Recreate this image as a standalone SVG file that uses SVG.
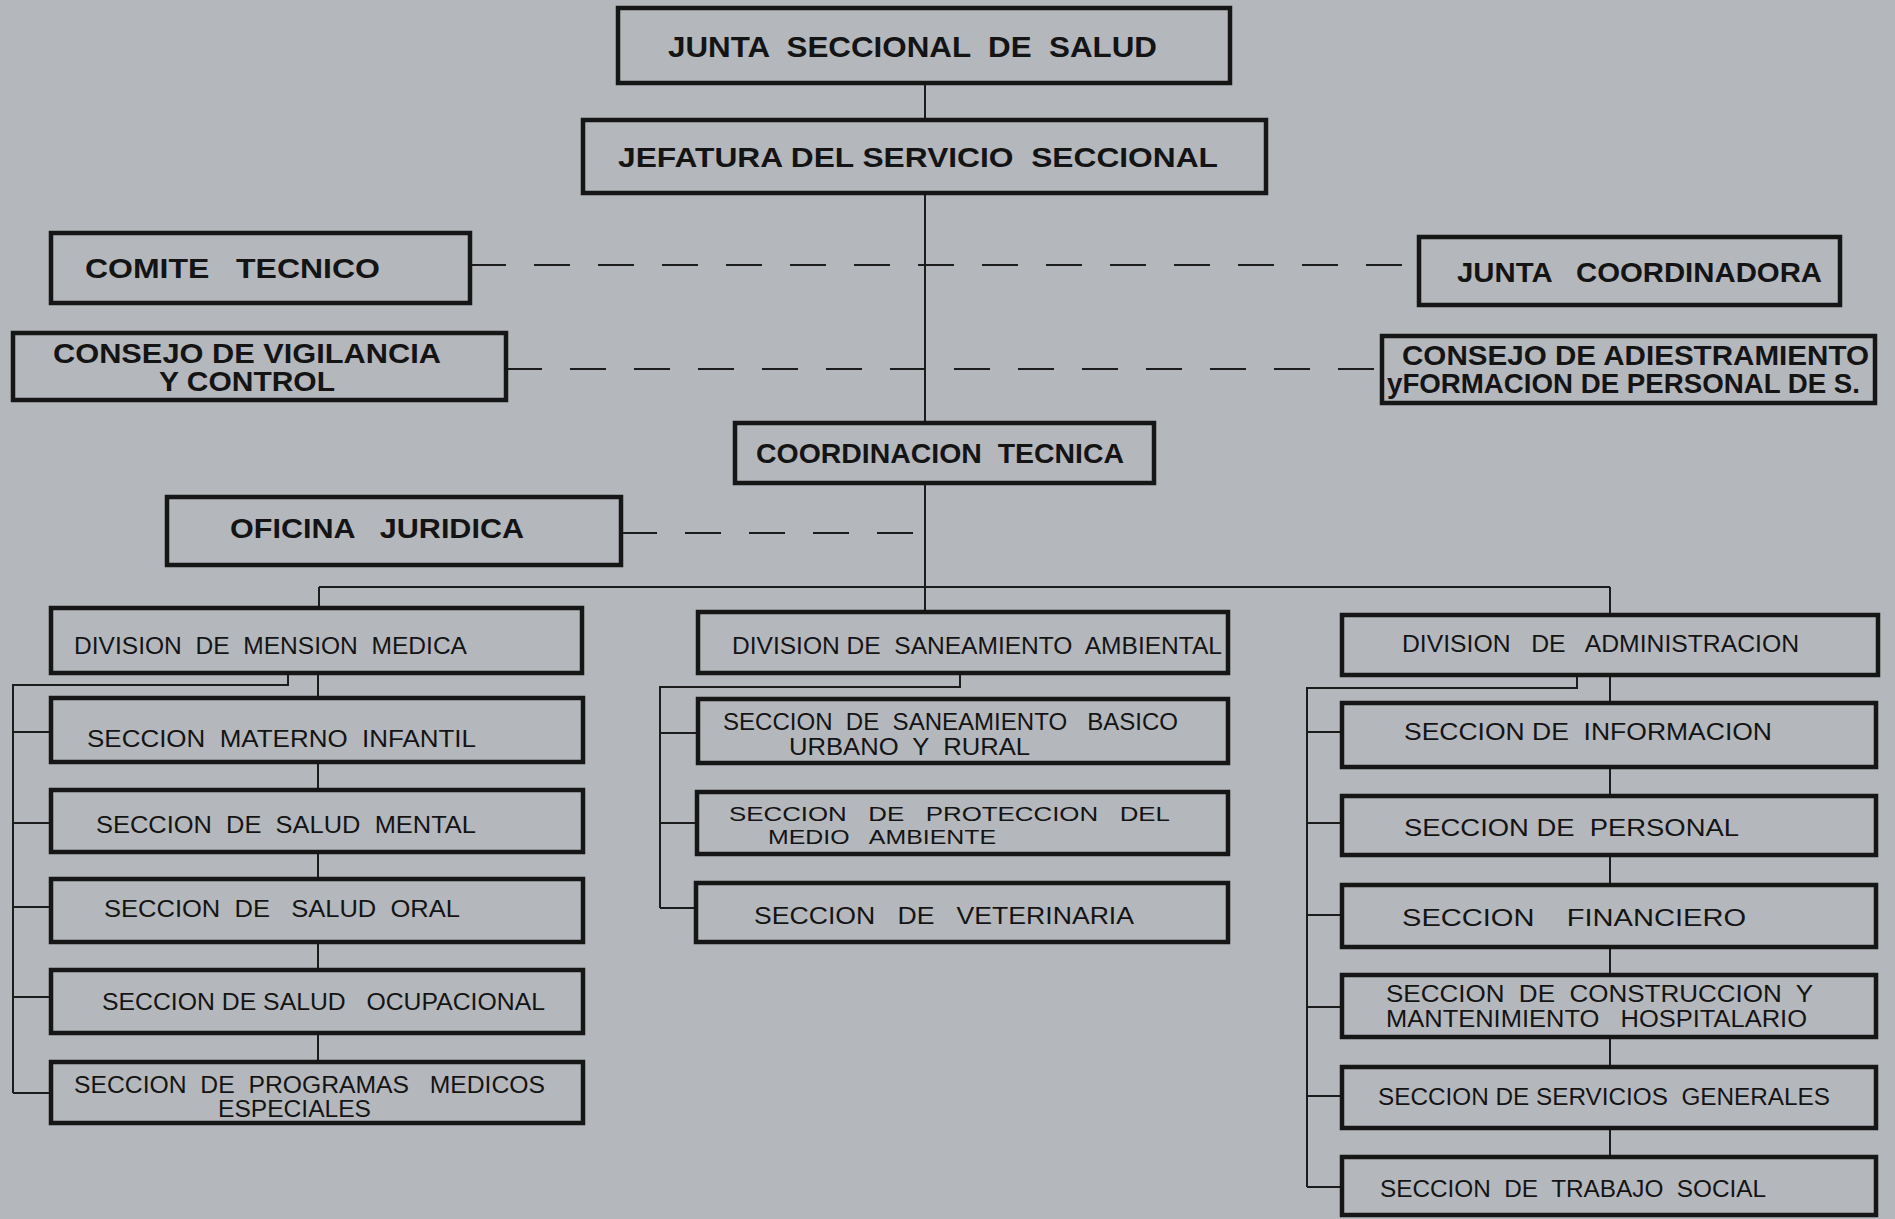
<svg xmlns="http://www.w3.org/2000/svg" width="1895" height="1219" viewBox="0 0 1895 1219">
<style>
.bg{fill:#b4b8bd}
.box{fill:none;stroke:#161616;stroke-width:4.5}
.ln{stroke:#1c1c1c;stroke-width:2;fill:none}
.dash{stroke:#1c1c1c;stroke-width:2;fill:none;stroke-dasharray:36 28}
text{font-family:"Liberation Sans",Arial,sans-serif;fill:#141414;white-space:pre}
.t1{font-size:30px;font-weight:bold}
.t2{font-size:28px;font-weight:bold}
.t3{font-size:23px}
.t4{font-size:21px}
</style>
<rect class="bg" x="0" y="0" width="1895" height="1219"/>
<g id="connectors">
<path class="ln" d="M925 83V120M925 193V423M925 483V612M319 587H1610M319 587V608M1610 587V615"/>
<path class="ln" d="M288 673V685H13V1093M13 732H51M13 823H51M13 907H51M13 997H51M13 1093H51"/>
<path class="ln" d="M318 673V698M318 762V790M318 852V879M318 942V970M318 1033V1062"/>
<path class="ln" d="M960 673V687H660V908M660 733H698M660 823H697M660 908H696"/>
<path class="ln" d="M1577 675V688H1307V1187M1307 732H1342M1307 823H1342M1307 915H1342M1307 1007H1342M1307 1096H1342M1307 1187H1342"/>
<path class="ln" d="M1610 675V703M1610 767V796M1610 855V885M1610 947V975M1610 1037V1067M1610 1128V1157"/>
<path class="dash" d="M470 265H1419"/>
<path class="dash" d="M506 369H1382"/>
<path class="dash" d="M621 533H925"/>
</g>
<g id="junta-seccional"><rect class="box" x="618" y="8" width="612" height="75"/><text class="t1" x="668" y="57" textLength="489" lengthAdjust="spacingAndGlyphs">JUNTA  SECCIONAL  DE  SALUD</text></g>
<g id="jefatura"><rect class="box" x="583" y="120" width="683" height="73"/><text class="t2" x="618" y="167" textLength="600" lengthAdjust="spacingAndGlyphs">JEFATURA DEL SERVICIO  SECCIONAL</text></g>
<g id="comite-tecnico"><rect class="box" x="51" y="233" width="419" height="70"/><text class="t2" x="85" y="278" textLength="295" lengthAdjust="spacingAndGlyphs">COMITE   TECNICO</text></g>
<g id="consejo-vigilancia"><rect class="box" x="13" y="333" width="493" height="67"/><text class="t2" x="53" y="363" textLength="388" lengthAdjust="spacingAndGlyphs">CONSEJO DE VIGILANCIA</text><text class="t2" x="159" y="391" textLength="176" lengthAdjust="spacingAndGlyphs">Y CONTROL</text></g>
<g id="junta-coordinadora"><rect class="box" x="1419" y="237" width="421" height="68"/><text class="t2" x="1457" y="282" textLength="365" lengthAdjust="spacingAndGlyphs">JUNTA   COORDINADORA</text></g>
<g id="consejo-adiestramiento"><rect class="box" x="1382" y="336" width="493" height="67"/><text class="t2" x="1402" y="365" textLength="467" lengthAdjust="spacingAndGlyphs">CONSEJO DE ADIESTRAMIENTO</text><text class="t2" x="1387" y="393" textLength="473" lengthAdjust="spacingAndGlyphs">yFORMACION DE PERSONAL DE S.</text></g>
<g id="coordinacion-tecnica"><rect class="box" x="735" y="423" width="419" height="60"/><text class="t2" x="756" y="463" textLength="368" lengthAdjust="spacingAndGlyphs">COORDINACION  TECNICA</text></g>
<g id="oficina-juridica"><rect class="box" x="167" y="497" width="454" height="68"/><text class="t2" x="230" y="538" textLength="294" lengthAdjust="spacingAndGlyphs">OFICINA   JURIDICA</text></g>
<g id="div-mension-medica"><rect class="box" x="51" y="608" width="531" height="65"/><text class="t3" x="74" y="654" textLength="393" lengthAdjust="spacingAndGlyphs">DIVISION  DE  MENSION  MEDICA</text></g>
<g id="sec-materno"><rect class="box" x="51" y="698" width="532" height="64"/><text class="t3" x="87" y="747" textLength="389" lengthAdjust="spacingAndGlyphs">SECCION  MATERNO  INFANTIL</text></g>
<g id="sec-mental"><rect class="box" x="51" y="790" width="532" height="62"/><text class="t3" x="96" y="833" textLength="380" lengthAdjust="spacingAndGlyphs">SECCION  DE  SALUD  MENTAL</text></g>
<g id="sec-oral"><rect class="box" x="51" y="879" width="532" height="63"/><text class="t3" x="104" y="917" textLength="356" lengthAdjust="spacingAndGlyphs">SECCION  DE   SALUD  ORAL</text></g>
<g id="sec-ocupacional"><rect class="box" x="51" y="970" width="532" height="63"/><text class="t3" x="102" y="1010" textLength="443" lengthAdjust="spacingAndGlyphs">SECCION DE SALUD   OCUPACIONAL</text></g>
<g id="sec-programas"><rect class="box" x="51" y="1062" width="532" height="61"/><text class="t3" x="74" y="1093" textLength="471" lengthAdjust="spacingAndGlyphs">SECCION  DE  PROGRAMAS   MEDICOS</text><text class="t3" x="218" y="1117" textLength="153" lengthAdjust="spacingAndGlyphs">ESPECIALES</text></g>
<g id="div-saneamiento"><rect class="box" x="698" y="612" width="530" height="61"/><text class="t3" x="732" y="654" textLength="490" lengthAdjust="spacingAndGlyphs">DIVISION DE  SANEAMIENTO  AMBIENTAL</text></g>
<g id="sec-basico"><rect class="box" x="698" y="699" width="530" height="64"/><text class="t3" x="723" y="730" textLength="455" lengthAdjust="spacingAndGlyphs">SECCION  DE  SANEAMIENTO   BASICO</text><text class="t3" x="789" y="755" textLength="241" lengthAdjust="spacingAndGlyphs">URBANO  Y  RURAL</text></g>
<g id="sec-proteccion"><rect class="box" x="697" y="792" width="531" height="62"/><text class="t4" x="729" y="821" textLength="441" lengthAdjust="spacingAndGlyphs">SECCION   DE   PROTECCION   DEL</text><text class="t4" x="768" y="844" textLength="228" lengthAdjust="spacingAndGlyphs">MEDIO   AMBIENTE</text></g>
<g id="sec-veterinaria"><rect class="box" x="696" y="883" width="532" height="59"/><text class="t3" x="754" y="924" textLength="380" lengthAdjust="spacingAndGlyphs">SECCION   DE   VETERINARIA</text></g>
<g id="div-administracion"><rect class="box" x="1342" y="615" width="536" height="60"/><text class="t3" x="1402" y="652" textLength="397" lengthAdjust="spacingAndGlyphs">DIVISION   DE   ADMINISTRACION</text></g>
<g id="sec-informacion"><rect class="box" x="1342" y="703" width="534" height="64"/><text class="t3" x="1404" y="740" textLength="368" lengthAdjust="spacingAndGlyphs">SECCION DE  INFORMACION</text></g>
<g id="sec-personal"><rect class="box" x="1342" y="796" width="534" height="59"/><text class="t3" x="1404" y="836" textLength="335" lengthAdjust="spacingAndGlyphs">SECCION DE  PERSONAL</text></g>
<g id="sec-financiero"><rect class="box" x="1342" y="885" width="534" height="62"/><text class="t3" x="1402" y="926" textLength="344" lengthAdjust="spacingAndGlyphs">SECCION    FINANCIERO</text></g>
<g id="sec-construccion"><rect class="box" x="1342" y="975" width="534" height="62"/><text class="t3" x="1386" y="1002" textLength="427" lengthAdjust="spacingAndGlyphs">SECCION  DE  CONSTRUCCION  Y</text><text class="t3" x="1386" y="1027" textLength="421" lengthAdjust="spacingAndGlyphs">MANTENIMIENTO   HOSPITALARIO</text></g>
<g id="sec-servicios"><rect class="box" x="1342" y="1067" width="534" height="61"/><text class="t3" x="1378" y="1105" textLength="452" lengthAdjust="spacingAndGlyphs">SECCION DE SERVICIOS  GENERALES</text></g>
<g id="sec-trabajo"><rect class="box" x="1342" y="1157" width="534" height="58"/><text class="t3" x="1380" y="1197" textLength="386" lengthAdjust="spacingAndGlyphs">SECCION  DE  TRABAJO  SOCIAL</text></g>
</svg>
